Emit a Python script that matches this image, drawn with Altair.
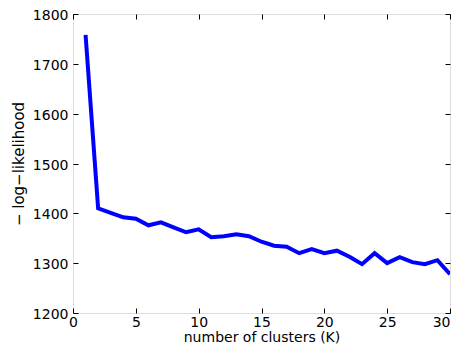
import altair as alt
import pandas as pd

k_values = list(range(1, 31))
neg_log_lik = [1758, 1410, 1401, 1392, 1389, 1376, 1382, 1372, 1362, 1368,
               1352, 1354, 1358, 1354, 1343, 1335, 1333, 1320, 1328, 1320,
               1325, 1313, 1298, 1320, 1300, 1312, 1302, 1298, 1306, 1278]
x_ticks = [0, 5, 10, 15, 20, 25, 30]
y_ticks = [1200, 1300, 1400, 1500, 1600, 1700, 1800]

df = pd.DataFrame({"K": k_values, "nll": neg_log_lik})

FONT = "DejaVu Sans"
xscale = alt.Scale(domain=[0, 30], nice=False, zero=False)
yscale = alt.Scale(domain=[1200, 1800], nice=False, zero=False)

common = dict(grid=False, domain=False, tickSize=5, offset=-5, tickColor="black",
              tickWidth=1, labelFont=FONT, labelFontSize=14, labelColor="black",
              titleFont=FONT, titleColor="black", titleFontWeight="normal",
              format="d")

line = alt.Chart(df).mark_line(color="#0000ff", strokeWidth=4, clip=True).encode(
    x=alt.X("K:Q", scale=xscale,
            axis=alt.Axis(orient="bottom", values=x_ticks, labelPadding=2, titlePadding=1,
                          title="number of clusters (K)", titleFontSize=14, labelFlush=False,
                          labelAlign=alt.condition("datum.value >= 30", alt.value("right"), alt.value("center")),
                          **common)),
    y=alt.Y("nll:Q", scale=yscale,
            axis=alt.Axis(orient="left", values=y_ticks, labelPadding=5, titlePadding=6,
                          labelOffset=1.5, titleFontSize=15,
                          title="\u2212 log\u2212likelihood", labelFlush=False, **common)),
)

frame = alt.Chart(df).mark_line(opacity=0).encode(
    x=alt.X("K:Q", scale=xscale,
            axis=alt.Axis(orient="top", values=x_ticks, labels=False, title=None, **common)),
    y=alt.Y("nll:Q", scale=yscale,
            axis=alt.Axis(orient="right", values=y_ticks, labels=False, title=None, **common)),
)

chart = alt.layer(line, frame).resolve_axis(
    x="independent", y="independent"
).properties(
    width=377, height=299,
    autosize=alt.AutoSizeParams(type="none"),
    padding={"left": 65, "top": 6, "right": 2, "bottom": 32},
).configure_view(stroke="black", strokeWidth=1.5).configure(background="white")

chart.save("out.html", embed_options={"renderer": "svg", "actions": False})
